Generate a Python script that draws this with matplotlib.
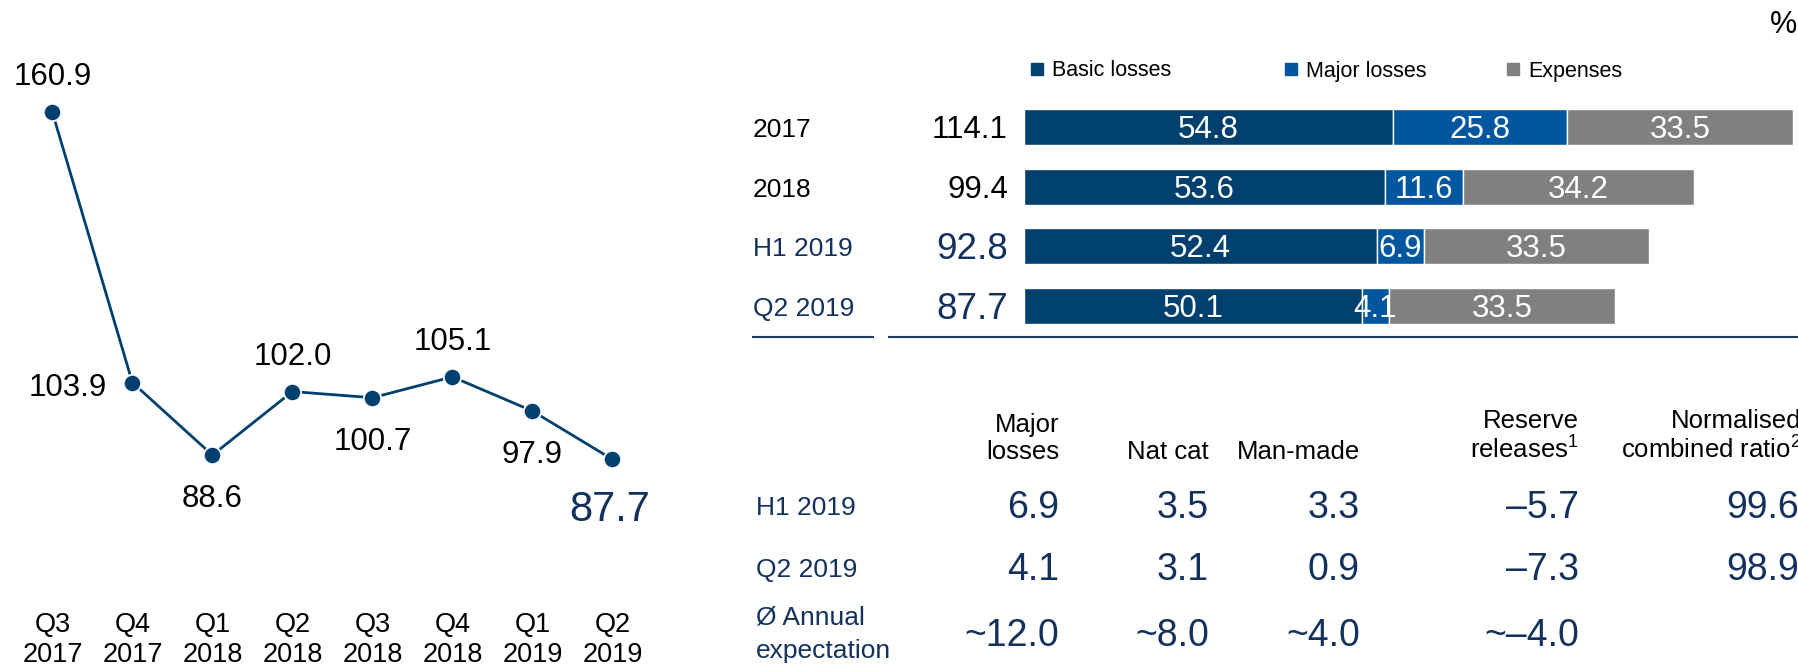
import matplotlib.pyplot as plt
from matplotlib.patches import Rectangle
from matplotlib.lines import Line2D
from matplotlib import transforms

plt.rcParams['font.family'] = ['Liberation Sans', 'DejaVu Sans']
plt.rcParams['mathtext.fontset'] = 'custom'
plt.rcParams['mathtext.rm'] = 'Liberation Sans'
plt.rcParams['mathtext.default'] = 'regular'

# line chart: combined ratio per quarter
quarters = ['Q3\n2017', 'Q4\n2017', 'Q1\n2018', 'Q2\n2018',
            'Q3\n2018', 'Q4\n2018', 'Q1\n2019', 'Q2\n2019']
combined = [160.9, 103.9, 88.6, 102.0, 100.7, 105.1, 97.9, 87.7]

# stacked bars
periods = ['2017', '2018', 'H1 2019', 'Q2 2019']
totals = [114.1, 99.4, 92.8, 87.7]
basic = [54.8, 53.6, 52.4, 50.1]
major = [25.8, 11.6, 6.9, 4.1]
expenses = [33.5, 34.2, 33.5, 33.5]
legend_names = ['Basic losses', 'Major losses', 'Expenses']

# table below
table_cols = ['Major\nlosses', 'Nat cat', 'Man-made',
              'Reserve\nreleases$^1$', 'Normalised\ncombined ratio$^2$']
table_rows = ['H1 2019', 'Q2 2019', 'Ø Annual\nexpectation']
h1_vals = ['6.9', '3.5', '3.3', '–5.7', '99.6']
q2_vals = ['4.1', '3.1', '0.9', '–7.3', '98.9']
exp_vals = ['~12.0', '~8.0', '~4.0', '~–4.0', '']

dark = '#00406F'
mid = '#0057A0'
grey = '#808080'
txtblue = '#13315C'

W, H = 1799, 666
fig = plt.figure(figsize=(W / 100, H / 100), dpi=100)


def fx(px):
    return px / W


def fy(py):
    return 1 - py / H


# ---- left: line chart
ax1 = fig.add_axes([fx(12.4), fy(580), 640 / W, 540 / H])
x = list(range(len(combined)))
ax1.plot(x, combined, color=dark, lw=2, marker='o', ms=12.5,
         mfc=dark, mec='white', mew=1.3, zorder=3)
ax1.set_xlim(-0.5, 7.5)
ax1.set_ylim(62.25, 176.16)
ax1.set_xticks(x, quarters, fontsize=19.5, linespacing=1.22)
ax1.tick_params(axis='x', length=0, pad=23)
ax1.set_yticks([])
for s in ax1.spines.values():
    s.set_visible(False)

# label offsets in pixels (dx, dy)
offs = [(0, 35), (-65, -5), (0, -44), (0, 35), (0, -44), (0, 35), (0, -44), (-3, -51)]
for i, v in enumerate(combined):
    last = i == len(combined) - 1
    ax1.annotate(f'{v:.1f}', (i, v), xytext=offs[i], textcoords='offset pixels',
                 ha='center', va='center',
                 fontsize=30 if last else 22.5,
                 color=txtblue if last else 'black')

# ---- right: stacked bars
ax2 = fig.add_axes([fx(1024), fy(336), 775 / W, 239 / H])
y = list(range(len(periods)))
bh = 0.6
left2 = [b + m for b, m in zip(basic, major)]
ax2.barh(y, basic, height=bh, color=dark, edgecolor='white', lw=1)
ax2.barh(y, major, left=basic, height=bh, color=mid, edgecolor='white', lw=1)
ax2.barh(y, expenses, left=left2, height=bh, color=grey, edgecolor='white', lw=1)
ax2.set_xlim(0, 115.0)
ax2.set_ylim(3.5, -0.5)
ax2.axis('off')

for i in y:
    ty = i + 0.05
    ax2.text(basic[i] / 2, ty, f'{basic[i]:.1f}', ha='center', va='center',
             color='white', fontsize=22.5)
    ax2.text(basic[i] + major[i] / 2, ty, f'{major[i]:.1f}', ha='center',
             va='center', color='white', fontsize=22.5)
    ax2.text(left2[i] + expenses[i] / 2, ty, f'{expenses[i]:.1f}', ha='center',
             va='center', color='white', fontsize=22.5)

tr = transforms.blended_transform_factory(fig.transFigure, ax2.transData)
for i, p in enumerate(periods):
    recent = i >= 2
    c = txtblue if recent else 'black'
    ax2.text(fx(753), i + 0.05, p, transform=tr, ha='left', va='center',
             fontsize=19, color=c)
    ax2.text(fx(1008), i + 0.05, f'{totals[i]:.1f}', transform=tr, ha='right',
             va='center', fontsize=26.5 if recent else 22.5, color=c)

# legend
leg_x = [1031, 1285, 1507]
for lx, name, col in zip(leg_x, legend_names, [dark, mid, grey]):
    fig.add_artist(Rectangle((fx(lx), fy(75)), 12 / W, 12 / H,
                             transform=fig.transFigure, color=col))
    fig.text(fx(lx + 21), fy(71), name, ha='left', va='center', fontsize=15.5)

fig.text(fx(1797), fy(25), '%', ha='right', va='center', fontsize=22)

# underlines
for x0, x1 in [(753, 873), (889, 1799)]:
    fig.add_artist(Line2D([fx(x0), fx(x1)], [fy(337), fy(337)],
                          color='#1F3A5F', lw=1.5))

# ---- table
col_right = [1059, 1209, 1360, 1579, 1799]
for cx, name in zip(col_right, table_cols):
    fig.text(fx(cx + 2 if cx > 1700 else cx), fy(464), name, ha='right',
             va='bottom', fontsize=18.5, linespacing=1.17)

row_y = [508, 570, 636]
fig.text(fx(756), fy(508), table_rows[0], ha='left', va='center',
         fontsize=19, color=txtblue)
fig.text(fx(756), fy(570), table_rows[1], ha='left', va='center',
         fontsize=19, color=txtblue)
fig.text(fx(756), fy(634), table_rows[2], ha='left', va='center',
         fontsize=19, color=txtblue, linespacing=1.48)

for vals, ry in zip([h1_vals, q2_vals, exp_vals], row_y):
    for cx, v in zip(col_right, vals):
        fig.text(fx(cx), fy(ry), v, ha='right', va='center', fontsize=27,
                 color=txtblue)

fig.savefig('out.png', dpi=100)
